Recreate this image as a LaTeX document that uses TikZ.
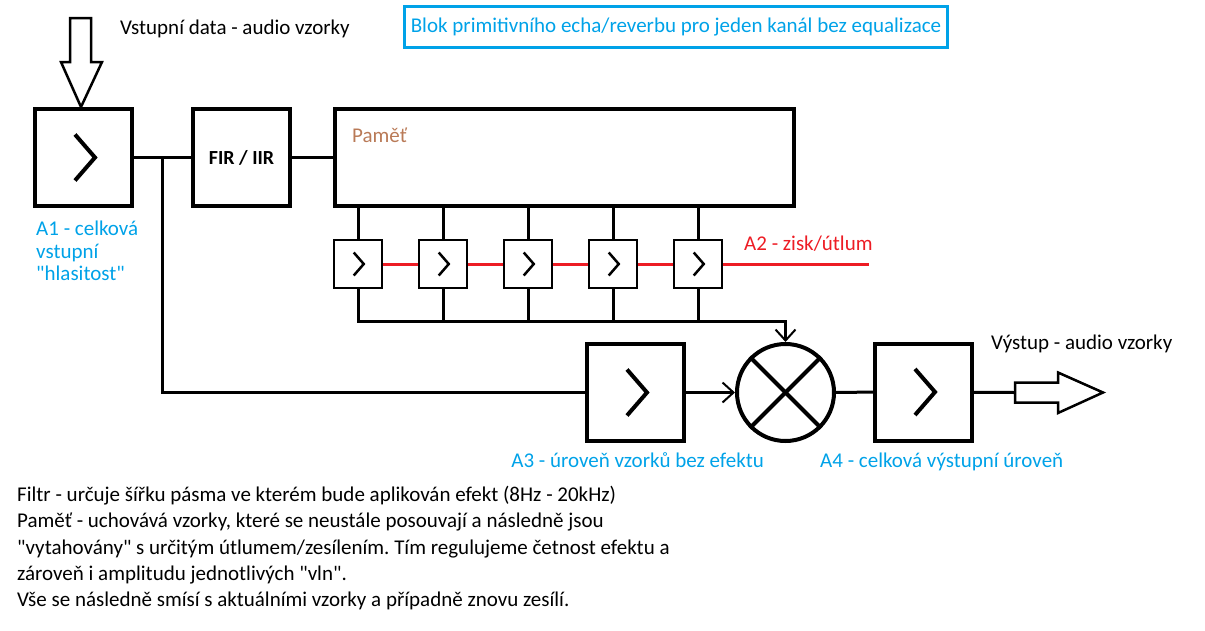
\documentclass[tikz,border=0pt]{standalone}
\usepackage{fontspec}
\setmainfont{Carlito}
\newfontfamily\plainq{Carlito}
\usetikzlibrary{arrows.meta}
\definecolor{paintblue}{RGB}{0,162,232}
\definecolor{paintred}{RGB}{237,28,36}
\definecolor{paintbrown}{RGB}{185,122,87}
\tikzset{chev/.pic={\draw[miter limit=10](-8.5,-23)--(11.5,0)--(-8.5,23);}}
\frenchspacing
\begin{document}
\begin{tikzpicture}[x=1pt,y=-1pt,
  amp/.style={draw,line width=4pt,minimum size=97pt,inner sep=0pt},
  tap/.style={draw,line width=2pt,minimum size=48pt,inner sep=0pt},
  lbl/.style={inner sep=0pt,font=\fontsize{21}{22.5}\selectfont},
  wire/.style={line width=3pt},
  barb/.style={-{Straight Barb[length=11pt,width=20pt,line width=2pt]}}]
\def\q{{\plainq\char34}}
\useasboundingbox(0,0)rectangle(1205,630);
% title
\node[lbl,draw=paintblue,line width=3pt,minimum width=543pt,minimum height=40.5pt,text=paintblue](title)at(676,27){Blok primitivního echa/reverbu pro jeden kanál bez equalizace};
% input
\node[lbl,anchor=base west](intext)at(120,34.5){Vstupní data - audio vzorky};
\node[amp](a1)at(83.5,157.5){};
\pic[line width=4pt]at(a1){chev};
\draw[line width=2.5pt,line join=miter](70,18)--(91,18)--(91,62)--(102,62)--(81,107)--(61,62)--(70,62)--cycle;
\node[lbl,anchor=north west,align=left,text=paintblue](a1text)at(36,221){A1 - celková\\vstupní\\\q hlasitost\q};
% filter and memory
\node[amp,font=\fontsize{20}{22}\selectfont\bfseries](fir)at(241.5,157.5){FIR / IIR};
\node[draw,line width=4pt,minimum width=459pt,minimum height=97pt](mem)at(564.5,157.5){};
\node[lbl,anchor=base west,text=paintbrown](memtext)at(352,142.5){Paměť};
\coordinate(br)at(162,157.5);
\draw[wire](a1)--(fir);
\draw[wire](fir)--(mem);
% taps
\foreach \i in {0,...,4}{
  \node[tap](t\i)at(358+85*\i,264){};
  \pic[line width=2.5pt,scale=0.5]at(t\i){chev};
  \draw[wire](mem.south-|t\i)--(t\i.north);
}
\foreach \i/\j in {0/1,1/2,2/3,3/4}
  \draw[wire,paintred](t\i.east)--(t\j.west);
\coordinate(a2end)at(869,264);
\draw[wire,paintred](t4.east)--(a2end);
\node[lbl,anchor=base west,text=paintred](a2text)at(744,250){A2 - zisk/útlum};
% mixer
\node[draw,circle,line width=4pt,minimum size=97pt,inner sep=0pt](mix)at(785.5,392.5){};
\draw[line width=4pt](mix.north west)--(mix.south east);
\draw[line width=4pt](mix.north east)--(mix.south west);
\foreach \i in {1,...,4}
  \draw[wire](t\i.south)--++(0,32);
\draw[wire,barb](t0.south)--++(0,32)-|(mix.north);
\node[amp](a3)at(635.5,392.5){};
\pic[line width=4pt]at(a3){chev};
\draw[wire](br)|-(a3.west);
\draw[wire,barb](a3)--(mix);
\node[lbl,anchor=base east,text=paintblue](a3text)at(764,467){A3 - úroveň vzorků bez efektu};
% output
\node[amp](a4)at(923.5,392){};
\pic[line width=4pt]at(a4){chev};
\draw[wire](mix)--(a4);
\coordinate(outtail)at(1015,392.5);
\draw[wire](a4)--(outtail);
\draw[line width=2.5pt,line join=miter](outtail)++(0,-10)--++(43,0)--++(0,-10)--(1103,392.5)--(1058,413)--++(0,-10.5)--(outtail|-0,402.5)--cycle;
\node[lbl,anchor=base west](outtext)at(991,349){Výstup - audio vzorky};
\node[lbl,anchor=base west,text=paintblue](a4text)at(820,467){A4 - celková výstupní úroveň};
% notes
\node[lbl,anchor=north west,align=left,font=\fontsize{21}{26.3}\selectfont](notes)at(17,486){Filtr - určuje šířku pásma ve kterém bude aplikován efekt (8Hz - 20kHz)\\Paměť - uchovává vzorky, které se neustále posouvají a následně jsou\\\q vytahovány\q{} s určitým útlumem/zesílením. Tím regulujeme četnost efektu a\\zároveň i amplitudu jednotlivých \q vln\q.\\Vše se následně smísí s aktuálními vzorky a případně znovu zesílí.};
\end{tikzpicture}
\end{document}
